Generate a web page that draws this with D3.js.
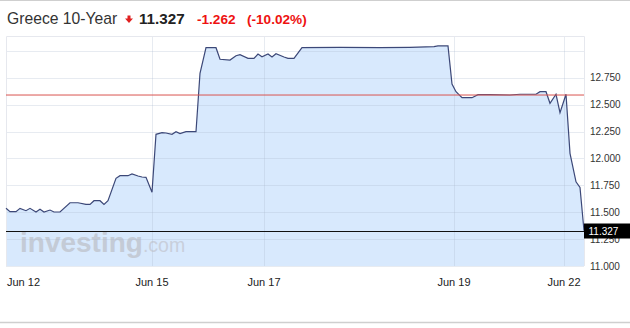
<!DOCTYPE html>
<html>
<head>
<meta charset="utf-8">
<script src="https://cdn.jsdelivr.net/npm/d3@7"></script>
<style>
  html, body { margin: 0; padding: 0; background: #fff; }
  svg { display: block; font-family: Arial, "Liberation Sans", sans-serif; }
</style>
</head>
<body>
<svg id="chart" width="630" height="328"></svg>
<script>
// ---- data ----
const title = "Greece 10-Year";
const lastValue = 11.327;
const change = "-1.262";
const changePct = "(-10.02%)";
const prevClose = 12.589;

// time index (periods) and yield values
const periods = [0,2,5,7,10,12,15,17,19,22,24,27,32,36,40,42,44,47,49,51,55,57,61,63,66,68,70,73,
  75,78,80,83,85,87,90,95,97,100,105,107,112,115,117,121,124,126,128,131,133,135,139,141,144,148,
  167,187,202,214,216,221,223,225,228,233,236,242,252,257,265,267,270,272,275,277,280,282,285,287,289];
const yields = [11.536,11.505,11.505,11.536,11.514,11.536,11.502,11.527,11.502,11.520,11.502,11.502,
  11.588,11.588,11.573,11.573,11.607,11.607,11.573,11.607,11.815,11.839,11.839,11.855,11.836,11.827,11.824,11.685,
  12.224,12.239,12.236,12.224,12.248,12.230,12.248,12.248,12.791,13.029,13.029,12.921,12.914,12.954,12.964,
  12.930,12.930,12.970,12.945,12.970,12.942,12.973,12.942,12.930,12.930,13.029,
  13.032,13.029,13.032,13.038,13.045,13.045,12.691,12.620,12.564,12.564,12.592,12.592,12.589,12.596,12.596,
  12.620,12.620,12.512,12.596,12.425,12.596,12.047,11.783,11.731,11.327];

const xTickPeriods = [0,73,129,224,279];
const xTickLabels = ["Jun 12","Jun 15","Jun 17","Jun 19","Jun 22"];
const yGridValues = [11.0,11.25,11.5,11.75,12.0,12.25,12.5,12.75,13.0];
const yTickLabels = ["11.000","11.250","11.500","11.750","12.000","12.250","12.500","12.750"];

// ---- layout ----
const svg = d3.select("#chart");
const L = 6, R = 584, T = 36, B = 266;

const x = d3.scaleLinear().domain([0, 289]).range([L, R]);
const y = d3.scaleLinear().domain([11.0, 13.0]).range([B, 50.8]);

const data = periods.map((p, i) => ({ p, v: yields[i] }));

// top & bottom rules
svg.append("line").attr("x1",0).attr("x2",630).attr("y1",0.5).attr("y2",0.5).attr("stroke","#cfcfcf");
svg.append("line").attr("x1",0).attr("x2",630).attr("y1",322.5).attr("y2",322.5).attr("stroke","#cfcfcf").attr("stroke-width",1.5);

// title
const tg = svg.append("g");
tg.append("text").attr("x",7).attr("y",24).attr("font-size","15.7px").attr("fill","#333").text(title);
tg.append("path").attr("d","M127.5,15.5 h3 v3 h2.5 l-4,4.5 l-4,-4.5 h2.5 z").attr("fill","#e02020");
tg.append("text").attr("x",139).attr("y",24).attr("font-size","15.2px").attr("font-weight","bold").attr("fill","#222").text(lastValue.toFixed(3));
tg.append("text").attr("x",197).attr("y",24).attr("font-size","13.6px").attr("font-weight","bold").attr("fill","#ee1111").text(change);
tg.append("text").attr("x",247).attr("y",24).attr("font-size","13.6px").attr("font-weight","bold").attr("fill","#ee1111").text(changePct);

// area
const area = d3.area().x(d => x(d.p)).y0(B).y1(d => y(d.v));
svg.append("path").datum(data).attr("d", area).attr("fill","#d8e9fd");

// watermark
const wm = svg.append("text").attr("x",20).attr("y",251.5);
wm.append("tspan").attr("font-size","28px").attr("font-weight","bold").attr("fill","#c4cbd6").text("investing");
wm.append("tspan").attr("font-size","19.5px").attr("fill","#c8cfdb").text(".com");

// grid
const grid = svg.append("g");
grid.selectAll("line.h").data(yGridValues).join("line")
  .attr("x1",L).attr("x2",R)
  .attr("y1",d => Math.round(y(d))+0.5).attr("y2",d => Math.round(y(d))+0.5)
  .attr("stroke","rgba(170,182,205,0.28)");
grid.selectAll("line.v").data(xTickPeriods.slice(1)).join("line")
  .attr("x1",d => Math.round(x(d))+0.5).attr("x2",d => Math.round(x(d))+0.5)
  .attr("y1",T).attr("y2",B)
  .attr("stroke","rgba(170,182,205,0.28)");
// frame
svg.append("path").attr("d",`M${L+0.5},${B} V${T+0.5} H${R+0.5} V${B}`).attr("fill","none").attr("stroke","#e6e8ee");

// line
const line = d3.line().x(d => x(d.p)).y(d => y(d.v));
svg.append("path").datum(data).attr("d", line).attr("fill","none").attr("stroke","#3c4878").attr("stroke-width",1.2);

// previous close line
svg.append("line").attr("x1",L).attr("x2",R).attr("y1",y(prevClose)).attr("y2",y(prevClose))
  .attr("stroke","#d9534f").attr("stroke-width",1);

// y labels
svg.append("g").selectAll("text").data(yTickLabels).join("text")
  .attr("x",590).attr("y",d => y(+d)).attr("dy","0.35em")
  .attr("font-size","10px").attr("fill","#333").text(d => d);

// x labels
svg.append("g").selectAll("text").data(xTickPeriods).join("text")
  .attr("x",(d,i) => i === 0 ? 7 : x(d))
  .attr("y",285.5)
  .attr("text-anchor",(d,i) => i === 0 ? "start" : "middle")
  .attr("font-size","11px").attr("fill","#222").text((d,i) => xTickLabels[i]);

// last value line & label
svg.append("line").attr("x1",L).attr("x2",R).attr("y1",Math.round(y(lastValue))+0.5).attr("y2",Math.round(y(lastValue))+0.5)
  .attr("stroke","#111").attr("stroke-width",1.2);
const ly = Math.round(y(lastValue));
svg.append("rect").attr("x",584).attr("y",ly-7.5).attr("width",46).attr("height",15).attr("fill","#000");
svg.append("text").attr("x",588.5).attr("y",ly).attr("dy","0.36em").attr("font-size","10px").attr("fill","#fff").text(lastValue.toFixed(3));
</script>
</body>
</html>
